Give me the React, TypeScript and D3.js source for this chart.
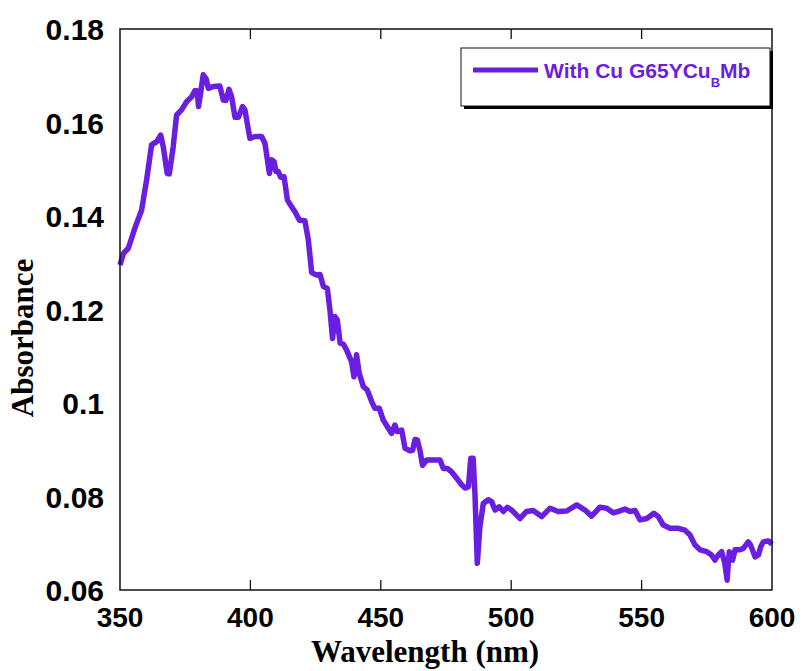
import * as d3 from "d3";

// absorbance spectrum
const wavelength = [
  350, 351.3, 353.2, 355.7, 358.3, 360.2, 362.1, 364.1, 365.6, 366.6, 368.1, 368.9,
  370.4, 371.7, 373.6, 375.6, 377.5, 378.7, 379.6, 380.1, 380.9, 381.9, 383.0, 383.9,
  385.8, 388.3, 389.6, 390.6, 391.8, 392.8, 394.1, 395.4, 397.0, 397.9, 399.8, 401.8,
  404.3, 405.6, 407.3, 408.2, 409.1, 409.8, 410.7, 411.6, 412.9, 414.2, 415.8, 417.1,
  418.8, 420.9, 422.2, 423.5, 425.2, 426.7, 428.0, 429.5, 430.5, 431.5, 432.4, 433.3,
  434.4, 435.6, 436.9, 438.8, 439.7, 440.7, 441.7, 443.3, 444.8, 446.5, 447.7, 449.4,
  450.9, 452.9, 454.1, 455.4, 456.3, 458.0, 459.3, 461.2, 462.2, 463.1, 464.0, 465.0,
  466.0, 467.6, 469.5, 472.7, 474.0, 475.5, 477.1, 479.1, 481.0, 482.3, 483.6, 484.5,
  485.4, 486.1, 487.0, 488.0, 489.3, 491.2, 492.5, 493.8, 495.4, 497.0, 498.5, 500.2,
  502.1, 503.4, 505.9, 508.4, 511.7, 514.9, 518.0, 521.3, 525.1, 528.3, 530.8, 534.0,
  536.6, 539.2, 541.1, 543.6, 545.6, 547.5, 549.4, 552.0, 554.7, 556.4, 558.3, 560.9,
  564.1, 566.6, 568.5, 570.5, 572.4, 575.0, 576.8, 578.1, 579.4, 580.7, 581.9, 582.8,
  583.6, 584.9, 585.8, 587.7, 589.0, 590.9, 591.8, 593.5, 594.8, 595.7, 596.7, 598.6,
  600,
];
const absorbance = [
  0.1295, 0.132, 0.1331, 0.1374, 0.1413, 0.1477, 0.1552, 0.1559, 0.1573, 0.1548, 0.1491, 0.149,
  0.1548, 0.1616, 0.1627, 0.1645, 0.1655, 0.1668, 0.1668, 0.1634, 0.1662, 0.1702, 0.1694, 0.1673,
  0.1677, 0.1678, 0.1648, 0.1647, 0.1671, 0.1655, 0.1611, 0.1611, 0.1634, 0.1627, 0.1566, 0.157,
  0.157, 0.1555, 0.1491, 0.152, 0.1516, 0.1495, 0.1495, 0.1483, 0.1484, 0.1434, 0.142, 0.1409,
  0.1391, 0.139, 0.1349, 0.1279, 0.1274, 0.1275, 0.1249, 0.1245, 0.1199, 0.1138, 0.1185, 0.1178,
  0.1128, 0.1126, 0.1113, 0.1088, 0.1056, 0.1103, 0.1064, 0.1035, 0.1028, 0.1003, 0.0989, 0.0989,
  0.0964, 0.0946, 0.0935, 0.0953, 0.0939, 0.0942, 0.0903, 0.0898, 0.0899, 0.0922, 0.0921, 0.0899,
  0.0867, 0.0878, 0.0878, 0.0878, 0.086, 0.086, 0.0853, 0.0839, 0.0825, 0.0818, 0.0821, 0.0882,
  0.0882, 0.0807, 0.0657, 0.0735, 0.0785, 0.0793, 0.0789, 0.0771, 0.0778, 0.0768, 0.0777, 0.0771,
  0.076, 0.0753, 0.0768, 0.077, 0.0757, 0.0775, 0.0768, 0.0769, 0.0782, 0.0771, 0.0758, 0.0777,
  0.0775, 0.0765, 0.0768, 0.0773, 0.0768, 0.077, 0.075, 0.0753, 0.0764, 0.0757, 0.0739, 0.0732,
  0.0732, 0.0728, 0.0718, 0.0696, 0.0686, 0.0682, 0.0675, 0.0664, 0.0675, 0.0682, 0.0657, 0.0621,
  0.0682, 0.0664, 0.0686, 0.0686, 0.0689, 0.0703, 0.0696, 0.0671, 0.0675, 0.0693, 0.0703, 0.0705,
  0.0698,
];

const xTicks = [350, 400, 450, 500, 550, 600];
const yTicks = [0.06, 0.08, 0.1, 0.12, 0.14, 0.16, 0.18];
const seriesName = "With Cu G65YCu";

const purple = "#6a1ee0";

export default function App() {
  const left = 120, right = 772, top = 29, bottom = 590;
  const x = d3.scaleLinear().domain([350, 600]).range([left, right]);
  const y = d3.scaleLinear().domain([0.06, 0.18]).range([bottom, top]);

  const pts = wavelength.map((w, i) => [w, absorbance[i]] as [number, number]);
  const line = d3
    .line<[number, number]>()
    .x((d) => x(d[0]))
    .y((d) => y(d[1]));

  const tickFont = "'Liberation Sans', Arial, sans-serif";
  const titleFont = "'Liberation Serif', 'Times New Roman', serif";

  return (
    <svg
      width={806}
      height={671}
      style={{ position: "absolute", left: 0, top: 0, background: "#fff" }}
    >
      <rect x={0} y={0} width={806} height={671} fill="#fff" />

      {/* ticks, inward, top and bottom */}
      {xTicks.slice(1, -1).map((t) => (
        <g key={t} stroke="#111" strokeWidth={1.3}>
          <line x1={x(t)} x2={x(t)} y1={bottom} y2={bottom - 10} />
          <line x1={x(t)} x2={x(t)} y1={top} y2={top + 10} />
        </g>
      ))}

      <path d={line(pts) ?? ""} fill="none" stroke={purple} strokeWidth={5.5} strokeLinejoin="round" />

      <rect
        x={left}
        y={top}
        width={right - left}
        height={bottom - top}
        fill="none"
        stroke="#111"
        strokeWidth={1.5}
      />

      {xTicks.map((t) => (
        <text
          key={t}
          x={x(t)}
          y={627}
          textAnchor="middle"
          fontFamily={tickFont}
          fontWeight="bold"
          fontSize={28}
          fill="#000"
        >
          {t}
        </text>
      ))}
      {yTicks.map((t) => (
        <text
          key={t}
          x={104}
          y={y(t) + 11}
          textAnchor="end"
          fontFamily={tickFont}
          fontWeight="bold"
          fontSize={30}
          fill="#000"
        >
          {d3.format("")(+t.toFixed(2))}
        </text>
      ))}

      <text
        x={425}
        y={662}
        textAnchor="middle"
        fontFamily={titleFont}
        fontWeight="bold"
        fontSize={31}
        fill="#000"
      >
        Wavelength (nm)
      </text>
      <text
        transform="translate(33,338) rotate(-90)"
        textAnchor="middle"
        fontFamily={titleFont}
        fontWeight="bold"
        fontSize={31}
        fill="#000"
      >
        Absorbance
      </text>

      {/* legend */}
      <rect x={464} y={51} width={309} height={58} fill="#000" />
      <rect x={461} y={48} width={309} height={58} fill="#fff" stroke="#111" strokeWidth={1} />
      <line x1={473} x2={538} y1={70} y2={70} stroke={purple} strokeWidth={5} />
      <text x={544} y={78} fontFamily={tickFont} fontWeight="bold" fontSize={21} fill={purple}>
        {seriesName}
        <tspan fontSize={13} dy={9}>B</tspan>
        <tspan dy={-9}>Mb</tspan>
      </text>
    </svg>
  );
}
